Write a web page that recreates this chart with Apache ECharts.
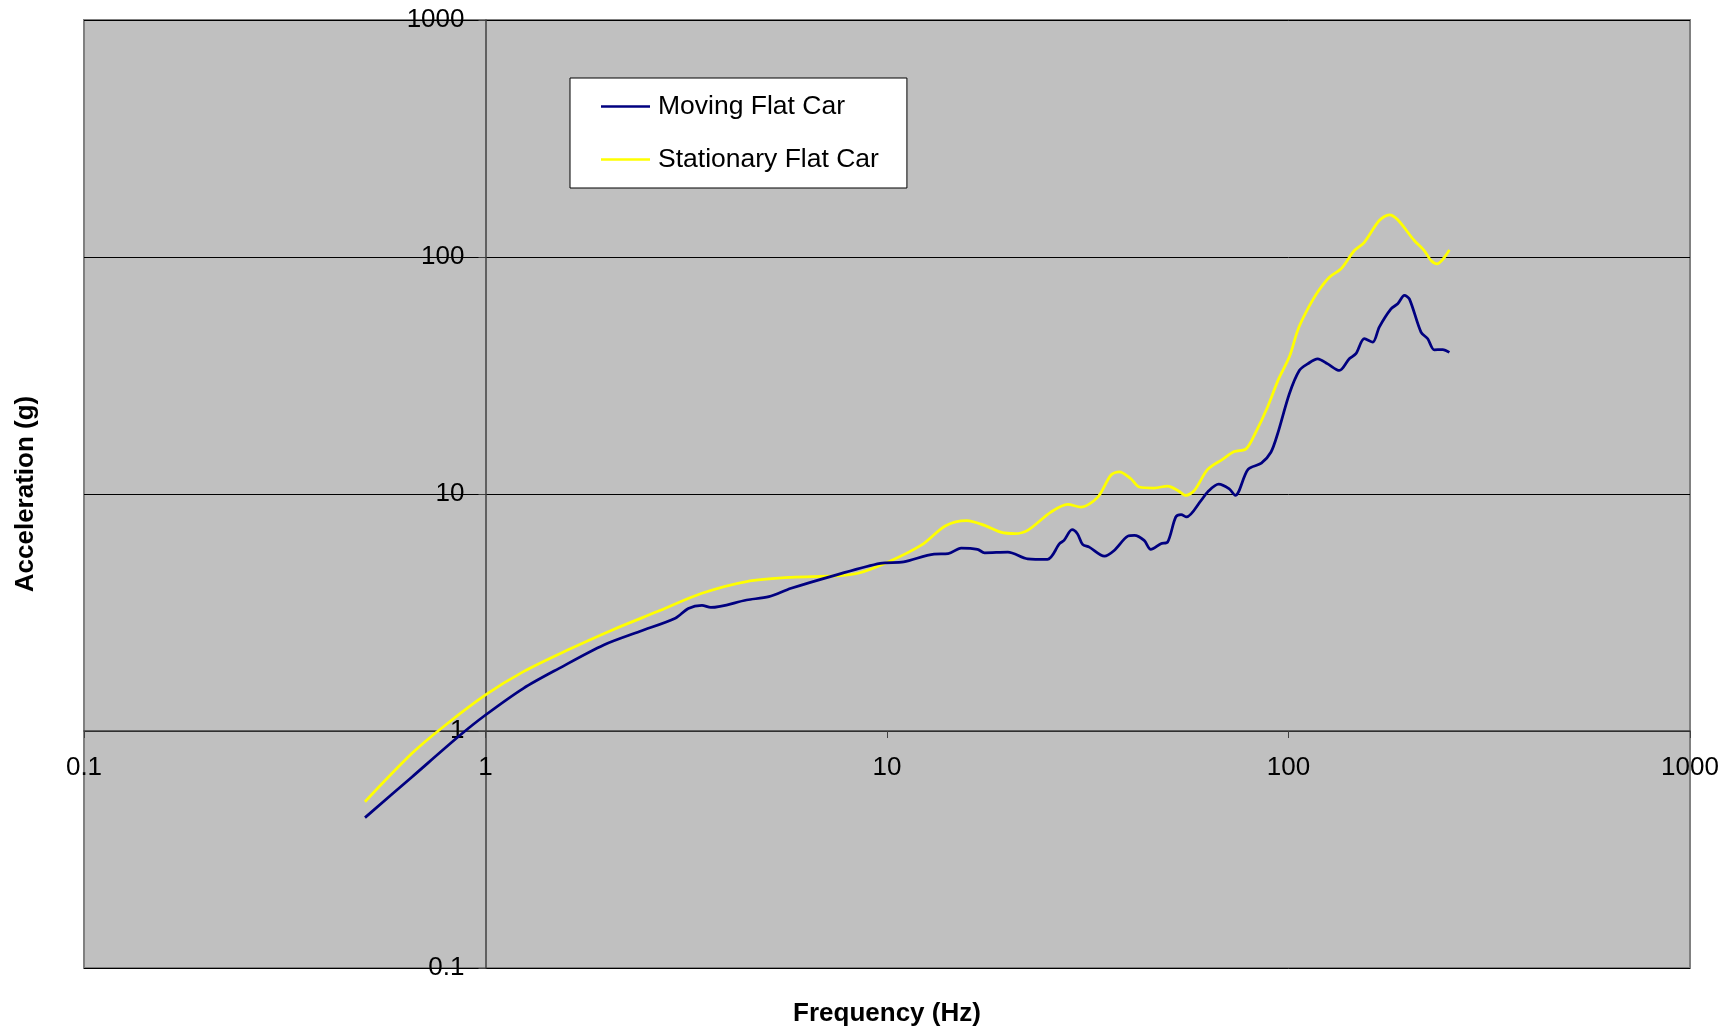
<!DOCTYPE html>
<html>
<head>
<meta charset="utf-8">
<script src="https://cdn.jsdelivr.net/npm/echarts@6/dist/echarts.min.js"></script>
<style>
  html, body { margin: 0; padding: 0; background: #ffffff; }
  #chart { width: 1735px; height: 1032px; }
</style>
</head>
<body>
<div id="chart"></div>
<script>
// ---- Data ----
const seriesNames = ['Moving Flat Car', 'Stationary Flat Car'];

const movingFreq = [0.501, 0.656, 0.858, 1.0, 1.243, 1.525, 1.97, 2.42, 2.97, 3.2, 3.46, 3.64, 4.47, 5.08, 5.77, 7.45, 9.62, 11.0, 13.1, 14.2, 15.3, 16.8, 17.5, 20.0, 22.4, 25.1, 26.9, 27.6, 28.9, 29.8, 30.7, 31.9, 34.8, 36.8, 39.8, 41.3, 43.7, 45.4, 48.1, 50.0, 52.4, 54.0, 55.7, 60.6, 62.9, 67.0, 71.2, 73.7, 79.3, 85.6, 90.4, 94.0, 100.5, 106.4, 111.6, 118.2, 125.2, 133.9, 141.7, 147.2, 154.5, 162.1, 168.3, 180.0, 187.1, 194.4, 200.0, 213.8, 222.2, 230.7, 242.2, 251.6];
const movingAcc = [0.431, 0.64, 0.95, 1.168, 1.514, 1.838, 2.306, 2.63, 2.99, 3.29, 3.39, 3.32, 3.57, 3.69, 4.0, 4.55, 5.10, 5.17, 5.58, 5.60, 5.91, 5.84, 5.65, 5.69, 5.33, 5.30, 6.17, 6.37, 7.07, 6.80, 6.13, 5.97, 5.47, 5.78, 6.64, 6.69, 6.37, 5.84, 6.17, 6.27, 8.0, 8.18, 8.0, 9.4, 10.2, 11.0, 10.5, 9.86, 12.7, 13.5, 15.0, 18.0, 26.5, 33.2, 35.4, 37.2, 35.4, 33.2, 37.2, 39.1, 45.2, 43.7, 50.6, 60.4, 63.5, 68.8, 66.6, 48.2, 45.2, 40.6, 40.7, 39.6];

const stationaryFreq = [0.501, 0.656, 0.784, 1.0, 1.243, 1.606, 2.07, 2.68, 3.46, 4.47, 5.77, 7.45, 8.47, 10.1, 12.2, 14.0, 15.8, 17.5, 19.2, 20.8, 22.4, 25.6, 28.2, 30.4, 33.5, 36.1, 37.9, 40.5, 42.5, 46.3, 50.0, 53.0, 55.5, 58.3, 62.9, 68.5, 73.3, 78.4, 82.6, 88.7, 94.5, 100.5, 105.4, 110.6, 118.2, 126.4, 135.2, 145.9, 154.5, 168.3, 178.3, 187.1, 205.7, 217.8, 226.5, 234.4, 251.6];
const stationaryAcc = [0.503, 0.805, 1.04, 1.419, 1.78, 2.2, 2.67, 3.19, 3.81, 4.27, 4.45, 4.51, 4.63, 5.18, 6.1, 7.35, 7.72, 7.37, 6.90, 6.80, 7.02, 8.39, 9.04, 8.81, 9.70, 12.0, 12.4, 11.6, 10.7, 10.6, 10.8, 10.35, 9.86, 10.35, 12.7, 14.0, 15.1, 15.5, 18.0, 23.3, 30.6, 37.9, 49.0, 58.5, 71.1, 82.2, 89.2, 106.5, 115.4, 142.5, 150.6, 143.5, 117.4, 106.5, 96.7, 93.6, 107.2];

const xTickLabels = ['0.1', '1', '10', '100', '1000'];
const yTickLabels = ['0.1', '1', '10', '100', '1000'];
const xTitle = 'Frequency (Hz)';
const yTitle = 'Acceleration (g)';

// ---- Chart ----
const FONT = "'Liberation Sans', Arial, sans-serif";
const chart = echarts.init(document.getElementById('chart'), null, { renderer: 'canvas' });

const zip = (xs, ys) => xs.map((x, i) => [x, ys[i]]);
const fmt = (labels) => (v) => {
  const s = String(+Number(v).toPrecision(6));
  return labels.includes(s) ? s : '';
};

// grid geometry
const GL = 84, GR = 45, GT = 20, GB = 64;
const gridW = 1735 - GL - GR, gridH = 1032 - GT - GB;
const xDecade = gridW / 4, yDecade = gridH / 4;

chart.setOption({
  animation: false,
  backgroundColor: '#ffffff',
  grid: {
    left: GL, right: GR, top: GT, bottom: GB,
    show: true,
    backgroundColor: '#C0C0C0',
    borderColor: '#808080',
    borderWidth: 2,
    containLabel: false,
    outerBoundsMode: 'none'
  },
  legend: {
    data: seriesNames,
    orient: 'vertical',
    left: 570, top: 78,
    backgroundColor: '#ffffff',
    borderColor: '#000000',
    borderWidth: 1,
    padding: [15, 28, 15, 31],
    itemGap: 26,
    itemWidth: 49,
    itemHeight: 2.5,
    icon: 'rect',
    textStyle: { fontFamily: FONT, fontSize: 26.5, color: '#000000', padding: [0, 0, 0, 3] }
  },
  xAxis: {
    type: 'log',
    logBase: 10,
    min: 0.1, max: 1000,
    position: 'bottom',
    offset: -yDecade,
    axisLine: { show: true, lineStyle: { color: '#404040', width: 1.5 } },
    axisTick: { show: true, inside: false, length: 7, lineStyle: { color: '#404040', width: 1 } },
    axisLabel: {
      show: true, margin: 24, fontFamily: FONT, fontSize: 26, color: '#000000',
      showMinLabel: true, showMaxLabel: true, hideOverlap: false,
      formatter: fmt(xTickLabels)
    },
    splitLine: { show: false },
    minorTick: { show: false },
    name: xTitle,
    nameLocation: 'middle',
    nameGap: 270,
    nameTextStyle: { fontFamily: FONT, fontSize: 26, fontWeight: 'bold', color: '#000000' }
  },
  yAxis: {
    type: 'log',
    logBase: 10,
    min: 0.1, max: 1000,
    position: 'left',
    offset: -xDecade,
    axisLine: { show: true, lineStyle: { color: '#404040', width: 1.5 } },
    axisTick: { show: true, inside: false, length: 7, lineStyle: { color: '#404040', width: 1 } },
    axisLabel: {
      show: true, margin: 21, fontFamily: FONT, fontSize: 26, color: '#000000',
      showMinLabel: true, showMaxLabel: true, hideOverlap: false,
      padding: [6, 0, 0, 0],
      formatter: fmt(yTickLabels)
    },
    splitLine: { show: true, lineStyle: { color: '#000000', width: 1 } },
    minorTick: { show: false },
    name: yTitle,
    nameLocation: 'middle',
    nameGap: 447,
    nameTextStyle: { fontFamily: FONT, fontSize: 26, fontWeight: 'bold', color: '#000000' }
  },
  series: [
    {
      name: seriesNames[0],
      type: 'line',
      data: zip(movingFreq, movingAcc),
      showSymbol: false,
      symbol: 'none',
      smooth: 0.3,
      lineStyle: { color: '#000080', width: 2.75 },
      itemStyle: { color: '#000080' },
      z: 3
    },
    {
      name: seriesNames[1],
      type: 'line',
      data: zip(stationaryFreq, stationaryAcc),
      showSymbol: false,
      symbol: 'none',
      smooth: 0.3,
      lineStyle: { color: '#FFFF00', width: 2.75 },
      itemStyle: { color: '#FFFF00' },
      z: 2
    }
  ]
});
</script>
</body>
</html>
